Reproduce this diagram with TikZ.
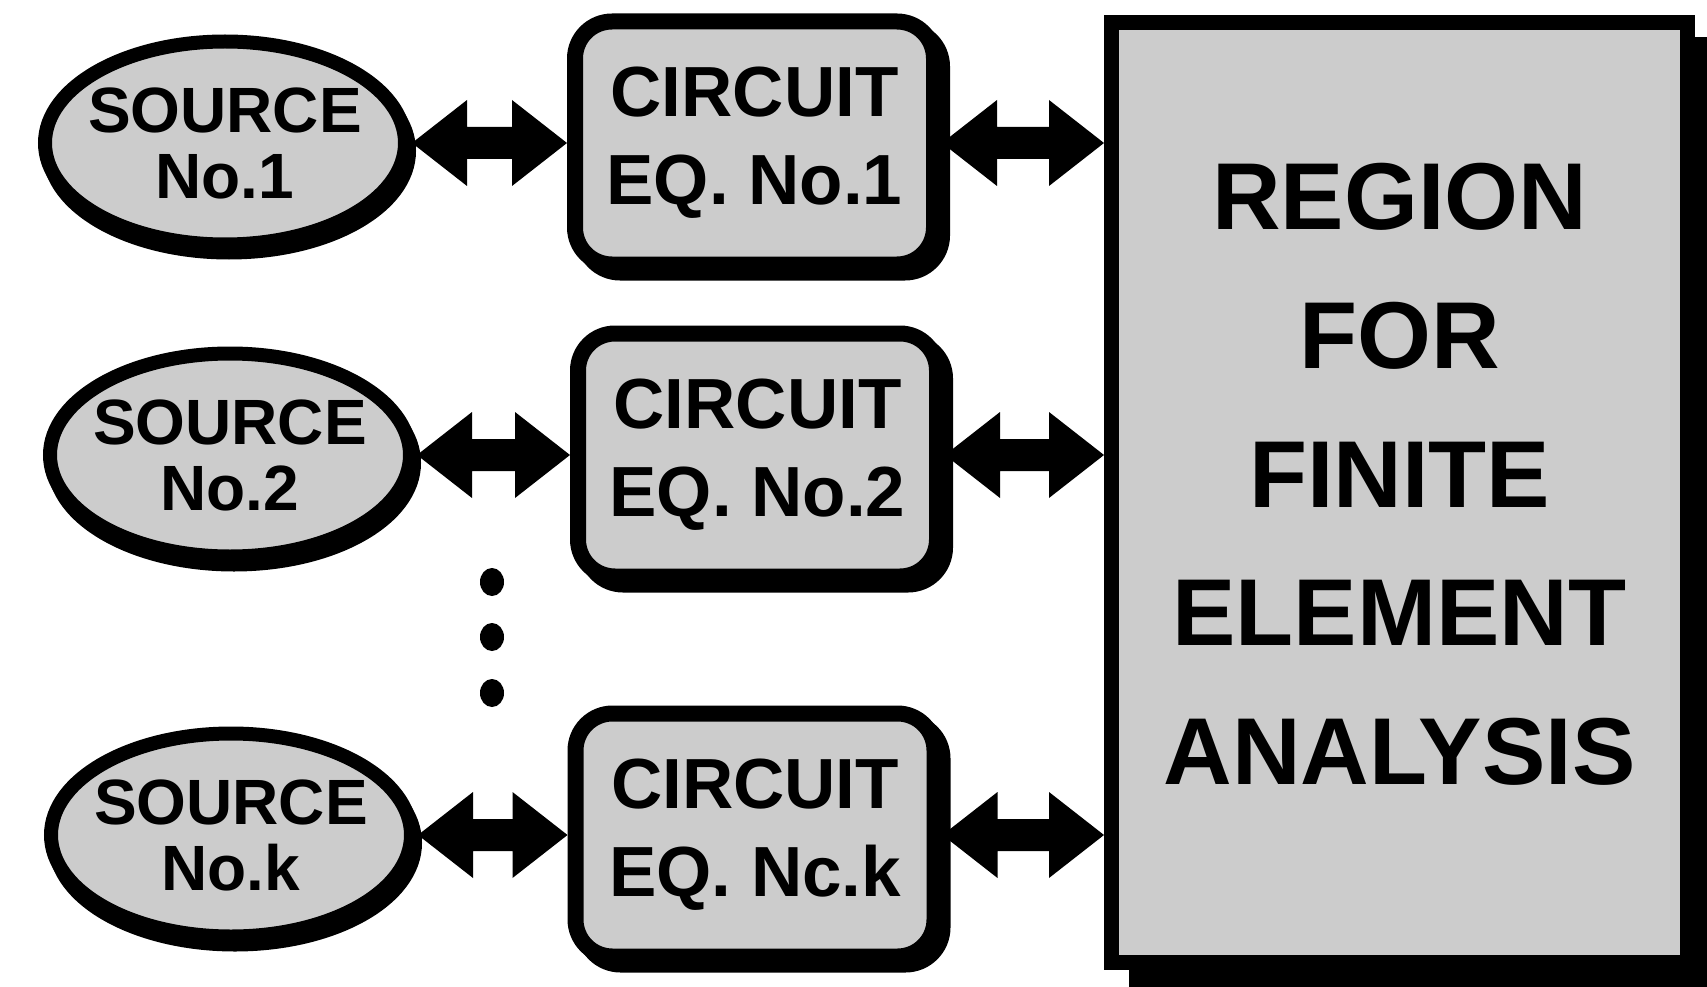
\documentclass[tikz,border=0pt]{standalone}
\usepackage{fontspec}
\setmainfont{Liberation Sans}
\usetikzlibrary{shapes.geometric,shadows,calc}
\definecolor{screen}{gray}{0.80}
\begin{document}
\begin{tikzpicture}[x=1pt,y=-1pt,
  srcnode/.style={ellipse, draw=black, line width=14pt, fill=screen,
    minimum width=360pt, minimum height=203pt, inner xsep=-60pt, inner ysep=0pt,
    font=\fontsize{64}{66}\selectfont\bfseries, align=center,
    drop shadow={shadow xshift=4pt, shadow yshift=-8pt, fill=black,
      draw=black, line width=14pt, opacity=1}},
  eqnode/.style={rectangle, rounded corners=37pt, draw=black, line width=16pt,
    fill=screen, minimum width=359pt, minimum height=243pt, inner sep=0pt,
    font=\fontsize{71}{88}\selectfont\bfseries, align=center,
    drop shadow={shadow xshift=8pt, shadow yshift=-8pt, fill=black,
      draw=black, line width=16pt, opacity=1}},
  regionnode/.style={rectangle, draw=black, line width=15pt, fill=screen,
    minimum width=576pt, minimum height=940pt, inner sep=0pt,
    drop shadow={shadow xshift=25pt, shadow yshift=-22pt, fill=black,
      draw=black, line width=15pt, opacity=1}},
  regiontext/.style={font=\fontsize{95}{138.75}\selectfont\bfseries,
    align=center, inner sep=0pt},
  % solid double-headed arrow outline between two points on one level
  link/.style={fill=black, to path={
    let \p1=(\tikztostart), \p2=(\tikztotarget) in
    (\x1,\y1) -- (\x1+55pt,\y1+43pt) -- (\x1+55pt,\y1+16pt)
    -- (\x2-55pt,\y1+16pt) -- (\x2-55pt,\y1+43pt) -- (\x2,\y1)
    -- (\x2-55pt,\y1-43pt) -- (\x2-55pt,\y1-16pt)
    -- (\x1+55pt,\y1-16pt) -- (\x1+55pt,\y1-43pt) -- cycle}},
  vdot/.style={fill=black},
]
\useasboundingbox (0,0) rectangle (1707,987);

% source ellipses
\node[srcnode] (s1) at (225,143) {SOURCE\\No.1};
\node[srcnode] (s2) at (230,455) {SOURCE\\No.2};
\node[srcnode] (sk) at (231,835) {SOURCE\\No.k};

% circuit equation boxes
\node[eqnode] (c1) at (754.5,143) {CIRCUIT\\EQ. No.1};
\node[eqnode] (c2) at (757.5,455) {CIRCUIT\\EQ. No.2};
\node[eqnode] (ck) at (755,835) {CIRCUIT\\EQ. Nc.k};

% finite element region
\node[regionnode] (fe) at (1399.5,492.5) {};
\node[regiontext] (fetext) at (1399.5,474.5) {REGION\\FOR\\FINITE\\ELEMENT\\ANALYSIS};

% coupling arrows
\path[link] (s1.east) to (c1.west);
\path[link] (s2.east) to (c2.west);
\path[link] (sk.east) to (ck.west);
\path[link] (c1.east) to (c1.east -| fe.west);
\path[link] (c2.east) to (c2.east -| fe.west);
\path[link] (ck.east) to (ck.east -| fe.west);

% vertical ellipsis between the rows
\fill[vdot] (492,582) ellipse [x radius=12, y radius=14];
\fill[vdot] (492,637) ellipse [x radius=12, y radius=14];
\fill[vdot] (492,693) ellipse [x radius=12, y radius=14];
\end{tikzpicture}
\end{document}
